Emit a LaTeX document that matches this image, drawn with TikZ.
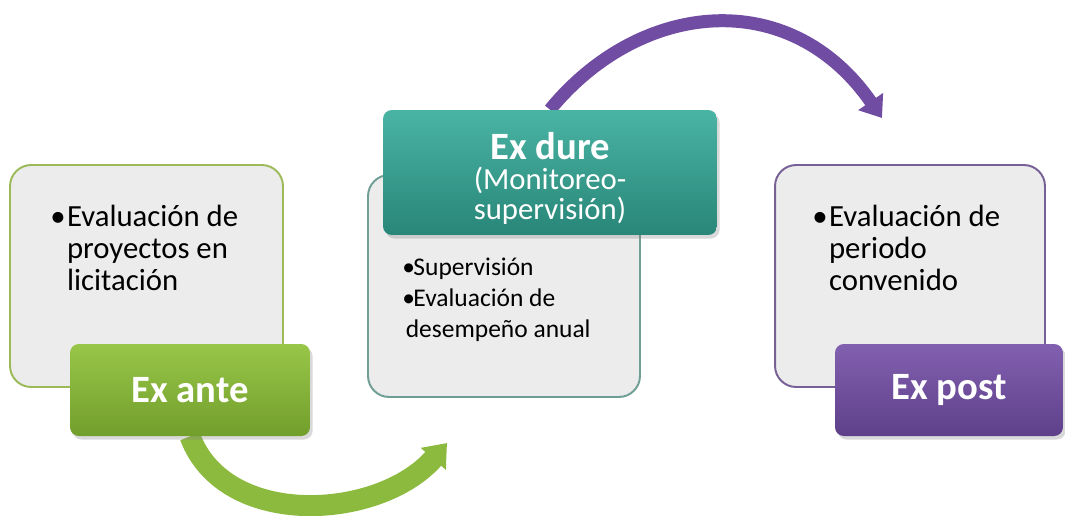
\documentclass[tikz,border=0pt]{standalone}
\usepackage{fontspec}
\setmainfont{Carlito}
\usepackage{xcolor}
\usetikzlibrary{arrows.meta,shadows,backgrounds}

\definecolor{cardgray}{RGB}{236,236,236}
\definecolor{anteline}{RGB}{155,187,89}
\definecolor{dureline}{RGB}{110,158,148}
\definecolor{postline}{RGB}{118,96,150}
\definecolor{antetop}{RGB}{152,198,72}
\definecolor{antebot}{RGB}{114,158,44}
\definecolor{duretop}{RGB}{74,180,164}
\definecolor{durebot}{RGB}{40,134,120}
\definecolor{posttop}{RGB}{130,96,176}
\definecolor{postbot}{RGB}{94,64,138}
\definecolor{antearrow}{RGB}{140,186,62}
\definecolor{postarrow}{RGB}{112,76,162}

\newcommand{\bul}{\makebox[9.5pt][l]{\textbullet}}
\newcommand{\nobul}{\makebox[9.5pt]{}}

\begin{document}
\begin{tikzpicture}[x=0.02cm,y=-0.02cm,
  card/.style={draw,line width=1.1pt,rounded corners=12pt,fill=cardgray,inner sep=0pt,minimum height=4.44cm},
  tab/.style={rounded corners=5pt,inner sep=0pt,text=white,align=center,
    drop shadow={shadow xshift=1.5pt,shadow yshift=-2pt,opacity=.3}},
  cardtext/.style={anchor=base west,inner sep=0pt,align=left,font=\fontsize{17.5}{18}\selectfont},
  bigword/.style={font=\fontsize{22}{22}\bfseries}]
\useasboundingbox (0,0) rectangle (1065,515);

\node[card,draw=anteline,minimum width=5.46cm] (antecard) at (146.5,276) {};
\node[card,draw=dureline,minimum width=5.44cm] (durecard) at (504,286) {};
\node[card,draw=postline,minimum width=5.4cm] (postcard) at (910,276) {};

\node[cardtext] (antetxt) at (50,290) {\bul Evaluación de\\\nobul proyectos en\\\nobul licitación};
\node[cardtext,font=\fontsize{14.5}{17.6}\selectfont] (duretxt) at (402,337)
  {\makebox[6.3pt][l]{\textbullet}Supervisión\\\makebox[6.3pt][l]{\textbullet}Evaluación de\\\hspace*{2pt}desempeño anual};
\node[cardtext] (posttxt) at (812,290) {\bul Evaluación de\\\nobul periodo\\\nobul convenido};

\node[tab,bigword,top color=antetop,bottom color=antebot,minimum width=4.8cm,minimum height=1.84cm] (exante) at (190,390) {Ex ante};
\node[tab,top color=duretop,bottom color=durebot,minimum width=6.68cm,minimum height=2.5cm,
  font=\fontsize{17.5}{17}\selectfont] (exdure) at (550,172.5)
  {\rule{0pt}{22pt}{\fontsize{22}{17}\bfseries Ex dure}\\(Monitoreo-\\supervisión)};
\node[tab,bigword,top color=posttop,bottom color=postbot,minimum width=4.56cm,minimum height=1.84cm] (expost) at (949,390) {Ex post};

\coordinate (antetip) at (447,443);
\coordinate (posttip) at (882,118);

\begin{scope}[on background layer]
\draw[antearrow,line width=0.42cm,-{Triangle[width=0.64cm,length=0.42cm]}]
  (exante.south) .. controls (225,530) and (380,520) .. (antetip);
\draw[postarrow,line width=0.26cm,-{Triangle[width=0.58cm,length=0.4cm]}]
  (exdure.north) .. controls (640,0) and (790,-15) .. (posttip);
\end{scope}
\end{tikzpicture}
\end{document}
